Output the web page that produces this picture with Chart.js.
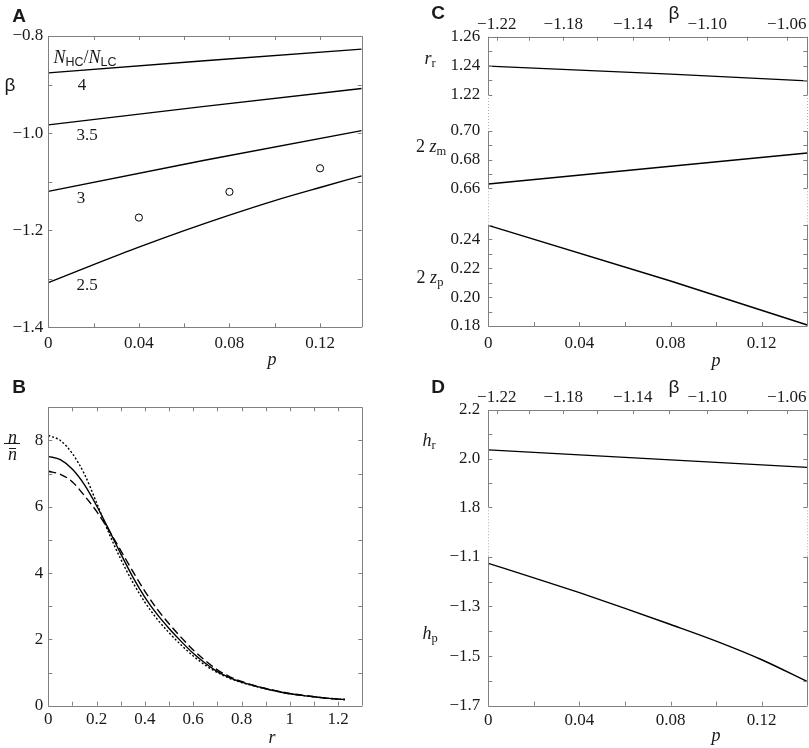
<!DOCTYPE html>
<html>
<head>
<meta charset="utf-8">
<title>Figure</title>
<script src="https://cdn.jsdelivr.net/npm/chart.js@4.4.1/dist/chart.umd.min.js"></script>
<style>
  html, body { margin: 0; padding: 0; background: #fff; }
  #fig { position: relative; width: 809px; height: 748px; overflow: hidden;
         font-family: 'Liberation Serif', 'Times New Roman', serif; color: #1a1a1a; }
  #fig canvas { position: absolute; }
  .t { position: absolute; transform: translate(-50%, -50%); white-space: nowrap; line-height: 1; font-size: 18px; }
  .i { font-style: italic; }
  .let { font-family: 'Liberation Sans', Arial, sans-serif; font-weight: bold; font-size: 19px; }
  .gr { font-family: 'Liberation Sans', Arial, sans-serif; font-size: 19px; }
  .t sub { font-size: 12.5px; vertical-align: -3px; line-height: 0; }
  .sf { font-family: 'Liberation Sans', Arial, sans-serif; }
  .bar { position: absolute; height: 0; border-top: 1px solid #1a1a1a; }
</style>
</head>
<body>
<div id="fig">
  <canvas id="cA" width="404" height="374" style="left:0;top:0"></canvas>
  <canvas id="cB" width="404" height="374" style="left:0;top:374px"></canvas>
  <canvas id="cC1" width="405" height="374" style="left:404px;top:0"></canvas>
  <canvas id="cC2" width="405" height="374" style="left:404px;top:0"></canvas>
  <canvas id="cC3" width="405" height="374" style="left:404px;top:0"></canvas>
  <canvas id="cD1" width="405" height="374" style="left:404px;top:374px"></canvas>
  <canvas id="cD2" width="405" height="374" style="left:404px;top:374px"></canvas>

  <!-- panel letters -->
  <div class="t let" style="left:19px;top:15px">A</div>
  <div class="t let" style="left:19px;top:386px">B</div>
  <div class="t let" style="left:438px;top:12px">C</div>
  <div class="t let" style="left:438px;top:386px">D</div>

  <!-- A -->
  <div class="t gr" style="left:10px;top:84px">β</div>
  <div class="t i" style="left:272px;top:359px">p</div>
  <div class="t" style="left:85px;top:57px"><span class="i">N</span><sub class="sf">HC</sub>/<span class="i">N</span><sub class="sf">LC</sub></div>
  <div class="t" style="left:82px;top:84px;font-size:17px">4</div>
  <div class="t" style="left:87px;top:134px;font-size:17px">3.5</div>
  <div class="t" style="left:81px;top:197px;font-size:17px">3</div>
  <div class="t" style="left:87px;top:284px;font-size:17px">2.5</div>

  <!-- B -->
  <div class="t i" style="left:12.5px;top:437px">n</div>
  <div class="bar" style="left:4px;width:16px;top:443px"></div>
  <div class="bar" style="left:8.5px;width:7px;top:448px"></div>
  <div class="t i" style="left:12.5px;top:454px">n</div>
  <div class="t i" style="left:272px;top:737px">r</div>

  <!-- C -->
  <div class="t gr" style="left:674px;top:12px">β</div>
  <div class="t" style="left:430px;top:58px"><span class="i">r</span><sub>r</sub></div>
  <div class="t" style="left:431px;top:146px">2 <span class="i">z</span><sub>m</sub></div>
  <div class="t" style="left:430px;top:277px">2 <span class="i">z</span><sub>p</sub></div>
  <div class="t i" style="left:716px;top:360px">p</div>

  <!-- D -->
  <div class="t gr" style="left:674px;top:386px">β</div>
  <div class="t" style="left:429px;top:440px"><span class="i">h</span><sub>r</sub></div>
  <div class="t" style="left:430px;top:633px"><span class="i">h</span><sub>p</sub></div>
  <div class="t i" style="left:716px;top:735px">p</div>
</div>

<script>
// ---- panel A: beta vs p for four N_HC/N_LC ratios ----
const aLineP = [0, 0.069, 0.1384];
const beta4 = [-0.876, -0.851, -0.827];
const beta35 = [-0.983, -0.945, -0.908];
const beta3 = [-1.120, -1.056, -0.995];
const p25 = [0, 0.02, 0.04, 0.06, 0.08, 0.10, 0.12, 0.1384];
const beta25 = [-1.308, -1.271, -1.235, -1.201, -1.169, -1.139, -1.112, -1.088];
const circP = [0.04, 0.08, 0.12];
const circBeta = [-1.174, -1.121, -1.0725];
const aXTicks = [0, 0.02, 0.04, 0.06, 0.08, 0.10, 0.12];
const aXLabels = ['0', '', '0.04', '', '0.08', '', '0.12'];
const aYTicks = [-1.4, -1.3, -1.2, -1.1, -1.0, -0.9, -0.8];
const aYLabels = ['\u22121.4', '', '\u22121.2', '', '\u22121.0', '', '\u22120.8'];

// ---- panel B: density profiles n / mean(n) ----
const rB = [0, 0.05, 0.1, 0.15, 0.2, 0.25, 0.3, 0.35, 0.4, 0.45, 0.5, 0.55, 0.6,
            0.65, 0.7, 0.75, 0.8, 0.85, 0.9, 0.95, 1.0, 1.05, 1.1, 1.15, 1.228];
const nSolid = [7.52, 7.42, 7.13, 6.66, 6.03, 5.32, 4.58, 3.88, 3.27, 2.76, 2.33, 1.94, 1.58,
                1.28, 1.03, 0.85, 0.71, 0.61, 0.51, 0.43, 0.36, 0.31, 0.27, 0.23, 0.185];
const nDotted = [8.15, 8.00, 7.60, 6.98, 6.12, 5.22, 4.42, 3.72, 3.12, 2.62, 2.20, 1.83, 1.50,
                 1.22, 1.00, 0.83, 0.70, 0.60, 0.51, 0.43, 0.36, 0.31, 0.27, 0.23, 0.185];
const nDashed = [7.07, 6.98, 6.75, 6.33, 5.86, 5.30, 4.68, 4.05, 3.45, 2.92, 2.47, 2.06, 1.68,
                 1.36, 1.08, 0.88, 0.73, 0.61, 0.52, 0.44, 0.37, 0.32, 0.27, 0.23, 0.185];
const bXTicks = [0, 0.1, 0.2, 0.3, 0.4, 0.5, 0.6, 0.7, 0.8, 0.9, 1.0, 1.1, 1.2];
const bXLabels = ['0', '', '0.2', '', '0.4', '', '0.6', '', '0.8', '', '1', '', '1.2'];
const bYTicks = [0, 1, 2, 3, 4, 5, 6, 7, 8];
const bYLabels = ['0', '', '2', '', '4', '', '6', '', '8'];

// ---- panels C and D share p and the beta axis on top ----
const pTicks = [0, 0.02, 0.04, 0.06, 0.08, 0.10, 0.12];
const pLabels = ['0', '', '0.04', '', '0.08', '', '0.12'];
const betaTickP = [0.0037, 0.0180, 0.0329, 0.0478, 0.0634, 0.0794, 0.0961, 0.1134, 0.1310];
const betaLabels = ['\u22121.22', '', '\u22121.18', '', '\u22121.14', '', '\u22121.10', '', '\u22121.06'];

// C
const cP = [0, 0.08, 0.14];
const rr = [1.2398, 1.2343, 1.2297];
const zm2 = [0.663, 0.6754, 0.6846];
const zp2 = [0.2497, 0.2112, 0.1807];
const c1Ticks = [1.22, 1.23, 1.24, 1.25, 1.26];
const c1Labels = ['1.22', '', '1.24', '', '1.26'];
const c2Ticks = [0.66, 0.67, 0.68, 0.69, 0.70];
const c2Labels = ['0.66', '', '0.68', '', '0.70'];
const c3Ticks = [0.18, 0.19, 0.20, 0.21, 0.22, 0.23, 0.24, 0.25];
const c3Labels = ['0.18', '', '0.20', '', '0.22', '', '0.24', ''];

// D
const dP = [0, 0.08, 0.14];
const hr = [2.036, 1.995, 1.964];
const hpP = [0, 0.02, 0.04, 0.06, 0.08, 0.10, 0.12, 0.14];
const hp = [-1.127, -1.185, -1.245, -1.308, -1.373, -1.440, -1.515, -1.603];
const d1Ticks = [1.8, 1.9, 2.0, 2.1, 2.2];
const d1Labels = ['1.8', '', '2.0', '', '2.2'];
const d2Ticks = [-1.7, -1.6, -1.5, -1.4, -1.3, -1.2, -1.1];
const d2Labels = ['\u22121.7', '', '\u22121.5', '', '\u22121.3', '', '\u22121.1'];

const FONT = {family: "'Liberation Serif', 'Times New Roman', serif", size: 17};
const INK = '#1a1a1a';
const FRAME = '#808080';

// frame with inward ticks on every side, plus dotted spine for broken axes
const framePlugin = {
  id: 'frame',
  afterDatasetsDraw(chart, args, o) {
    const {ctx, chartArea: a} = chart;
    const L = 4;
    const px = v => Math.round(v) + 0.5;
    const seg = (x1, y1, x2, y2) => { ctx.beginPath(); ctx.moveTo(x1, y1); ctx.lineTo(x2, y2); ctx.stroke(); };
    ctx.save();
    ctx.strokeStyle = FRAME;
    ctx.lineWidth = 1;
    const left = px(a.left), right = px(a.right);
    seg(left, a.top, left, a.bottom);
    seg(right, a.top, right, a.bottom);
    if (o.top) seg(a.left, px(a.top), a.right, px(a.top));
    if (o.bottom) seg(a.left, px(a.bottom), a.right, px(a.bottom));
    const y = chart.scales.y;
    y.ticks.forEach(t => {
      const v = px(y.getPixelForValue(t.value));
      seg(a.left, v, a.left + L, v);
      seg(a.right - L, v, a.right, v);
    });
    if (o.bottom) {
      const x = chart.scales.x;
      x.ticks.forEach(t => { const v = px(x.getPixelForValue(t.value)); seg(v, a.bottom, v, a.bottom - L); });
    }
    if (o.top) {
      const x = chart.scales[o.topScale];
      x.ticks.forEach(t => { const v = px(x.getPixelForValue(t.value)); seg(v, a.top, v, a.top + L); });
    }
    if (o.gapAbove) {
      ctx.strokeStyle = '#b0b0b0';
      ctx.setLineDash([1, 2]);
      seg(left, a.top - o.gapAbove, left, a.top);
      seg(right, a.top - o.gapAbove, right, a.top);
    }
    ctx.restore();
  }
};

function pts(xs, ys) {
  return xs.map((x, i) => ({x: x, y: ys[i]}));
}

function curve(xs, ys, dash, smooth) {
  return {
    data: pts(xs, ys), showLine: true, pointRadius: 0,
    borderColor: '#000', borderWidth: 1.4, borderDash: dash || [],
    cubicInterpolationMode: smooth ? 'monotone' : 'default', tension: 0
  };
}

function axis(position, a, show, size) {
  return {
    type: 'linear', position: position, min: a.min, max: a.max, display: show,
    grid: {display: false, drawTicks: false},
    border: {display: false},
    afterBuildTicks: s => { s.ticks = a.ticks.map(v => ({value: v})); },
    afterFit: s => {
      if (!show) return;
      if (position === 'left') s.width = size; else s.height = size;
    },
    ticks: {
      padding: a.pad, autoSkip: false, maxRotation: 0, minRotation: 0,
      font: FONT, color: INK,
      callback: (v, i) => a.labels[i]
    }
  };
}

function plot(id, area, spec) {
  const cv = document.getElementById(id);
  const W = cv.width, H = cv.height;
  const YW = 40, XH = 30, TH = 22;
  const scales = {
    x: axis('bottom', spec.x, !!spec.xShow, XH),
    y: axis('left', spec.y, true, YW)
  };
  if (spec.top) scales.x2 = axis('top', spec.top, true, TH);
  return new Chart(cv, {
    type: 'scatter',
    data: {datasets: spec.datasets},
    options: {
      responsive: false, animation: false, events: [],
      layout: {padding: {
        left: area.l - YW,
        right: W - area.r,
        top: area.t - (spec.top ? TH : 0),
        bottom: H - area.b - (spec.xShow ? XH : 0)
      }},
      plugins: {
        legend: {display: false},
        tooltip: {enabled: false},
        frame: {top: !!spec.frameTop, bottom: !!spec.xShow, topScale: spec.top ? 'x2' : 'x', gapAbove: spec.gapAbove || 0}
      },
      scales: scales
    },
    plugins: [framePlugin]
  });
}

const pAxisC = {min: 0, max: 0.14, ticks: pTicks, labels: pLabels, pad: 7};
const pAxisD = {min: 0, max: 0.14, ticks: pTicks, labels: pLabels, pad: 5};
const betaAxis = {min: 0, max: 0.14, ticks: betaTickP, labels: betaLabels, pad: 2};

// A
plot('cA', {l: 48.3, t: 36, r: 361.7, b: 327.3}, {
  x: {min: 0, max: 0.1384, ticks: aXTicks, labels: aXLabels, pad: 6},
  y: {min: -1.4, max: -0.8, ticks: aYTicks, labels: aYLabels, pad: 5},
  xShow: true, frameTop: true,
  datasets: [
    curve(aLineP, beta4), curve(aLineP, beta35), curve(aLineP, beta3),
    curve(p25, beta25, null, true),
    {data: pts(circP, circBeta), showLine: false, pointRadius: 3.6,
     pointBackgroundColor: '#fff', pointBorderColor: '#000', pointBorderWidth: 1}
  ]
});

// B
plot('cB', {l: 48.3, t: 33.3, r: 362.3, b: 331.7}, {
  x: {min: 0, max: 1.3, ticks: bXTicks, labels: bXLabels, pad: 4},
  y: {min: 0, max: 9, ticks: bYTicks, labels: bYLabels, pad: 5},
  xShow: true, frameTop: true,
  datasets: [
    curve(rB, nDotted, [2, 2], true),
    curve(rB, nDashed, [8, 4], true),
    curve(rB, nSolid, null, true)
  ]
});

// C, three stacked pieces of a broken axis
plot('cC1', {l: 84.3, t: 36.7, r: 403.3, b: 95}, {
  x: pAxisC, top: betaAxis, frameTop: true,
  y: {min: 1.22, max: 1.26, ticks: c1Ticks, labels: c1Labels, pad: 8},
  datasets: [curve(cP, rr)]
});
plot('cC2', {l: 84.3, t: 131, r: 403.3, b: 188.3}, {
  x: pAxisC, gapAbove: 36,
  y: {min: 0.66, max: 0.70, ticks: c2Ticks, labels: c2Labels, pad: 8},
  datasets: [curve(cP, zm2)]
});
plot('cC3', {l: 84.3, t: 225, r: 403.3, b: 326}, {
  x: pAxisC, xShow: true, gapAbove: 36.7,
  y: {min: 0.18, max: 0.25, ticks: c3Ticks, labels: c3Labels, pad: 8},
  datasets: [curve(cP, zp2)]
});

// D, two pieces
plot('cD1', {l: 84.3, t: 36, r: 403.3, b: 133.3}, {
  x: pAxisD, top: betaAxis, frameTop: true,
  y: {min: 1.8, max: 2.2, ticks: d1Ticks, labels: d1Labels, pad: 8},
  datasets: [curve(dP, hr)]
});
plot('cD2', {l: 84.3, t: 182.7, r: 403.3, b: 331.7}, {
  x: pAxisD, xShow: true, gapAbove: 49.4,
  y: {min: -1.7, max: -1.1, ticks: d2Ticks, labels: d2Labels, pad: 8},
  datasets: [curve(hpP, hp, null, true)]
});
</script>
</body>
</html>
